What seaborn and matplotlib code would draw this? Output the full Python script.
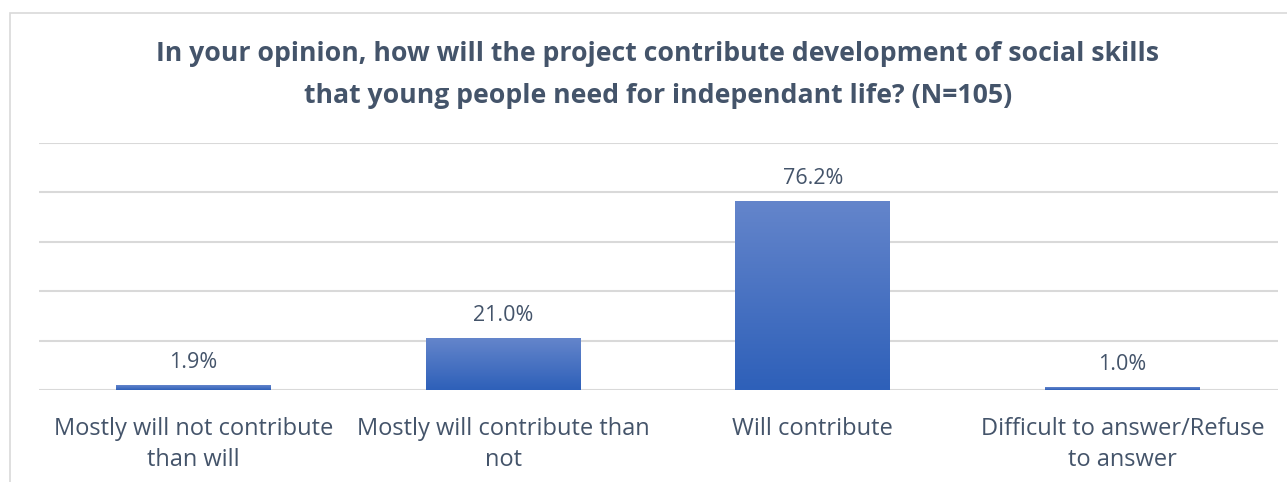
import numpy as np
import pandas as pd
import matplotlib
matplotlib.use("Agg")
import matplotlib.pyplot as plt
from matplotlib.colors import LinearSegmentedColormap
from matplotlib.patches import Rectangle
import seaborn as sns

categories = [
    "Mostly will not contribute\nthan will",
    "Mostly will contribute than\nnot",
    "Will contribute",
    "Difficult to answer/Refuse\nto answer",
]
shares = [1.9, 21.0, 76.2, 1.0]
value_labels = ["1.9%", "21.0%", "76.2%", "1.0%"]
title = ("In your opinion, how will the project contribute development of social skills\n"
         "that young people need for independant life? (N=105)")

sns.set_theme(style="white")
plt.rcParams["font.family"] = ["Open Sans", "DejaVu Sans"]

text_color = "#44546A"
grid_color = "#D9D9D9"
bar_top = "#6485CB"
bar_bottom = "#2E60B9"

df = pd.DataFrame({"category": categories, "share": shares})

fig = plt.figure(figsize=(12.87, 4.82), dpi=100)
ax = fig.add_axes([38.5 / 1287, 92 / 482, 1239 / 1287, 247 / 482])

sns.barplot(data=df, x="category", y="share", color=bar_bottom, width=0.5, ax=ax)

ax.set_ylim(0, 100)
ax.set_xlim(-0.5, len(categories) - 0.5)
for yv in range(0, 101, 20):
    ax.axhline(yv, color=grid_color, lw=1.5, zorder=0)

# vertical gradient fill inside each bar
cmap = LinearSegmentedColormap.from_list("barfill", [bar_bottom, bar_top])
grad = np.linspace(0, 1, 256).reshape(-1, 1)
for patch in ax.patches:
    x0, y0 = patch.get_x(), patch.get_y()
    w, h = patch.get_width(), patch.get_height()
    ax.imshow(grad, cmap=cmap, origin="lower", aspect="auto",
              extent=(x0, x0 + w, y0, y0 + h), zorder=2, interpolation="bilinear")
    patch.set_facecolor("none")
    patch.set_edgecolor("none")
ax.set_xlim(-0.5, len(categories) - 0.5)
ax.set_ylim(0, 100)

for i, (v, lab) in enumerate(zip(shares, value_labels)):
    ax.annotate(lab, (i, v), xytext=(0, 9), textcoords="offset points",
                ha="center", va="bottom", fontsize=15.5, color=text_color)

ax.set_xlabel("")
ax.set_ylabel("")
ax.set_yticks([])
ax.tick_params(axis="x", length=0, pad=19.5, labelsize=17, colors=text_color)
for t in ax.get_xticklabels():
    t.set_linespacing(1.36)
for s in ax.spines.values():
    s.set_visible(False)

fig.text(658 / 1287, 1 - 75 / 482, title, ha="center", va="center",
         fontsize=19.2, fontweight="bold", color=text_color, linespacing=1.8)

# chart frame
fig.patches.append(Rectangle((9.5 / 1287, -0.1), 1.2, 1.1 - 12.5 / 482,
                             transform=fig.transFigure, fill=False,
                             edgecolor="#D9D9D9", lw=1.2))

fig.savefig("out.png", dpi=100, facecolor="white")
